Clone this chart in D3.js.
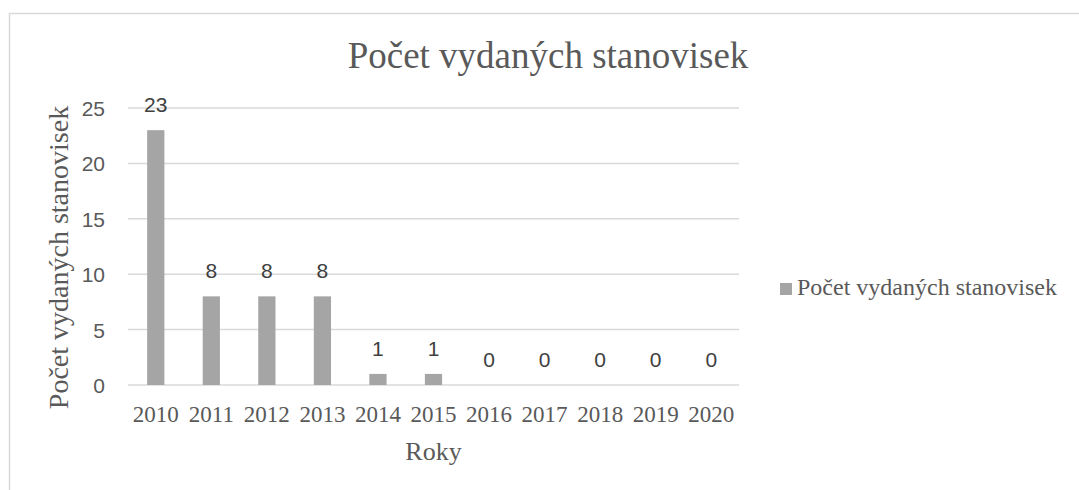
<!DOCTYPE html>
<html>
<head>
<meta charset="utf-8">
<script src="https://cdn.jsdelivr.net/npm/d3@7"></script>
<style>
  body { margin: 0; background: #fff; }
  .tick text { fill: #595959; }
</style>
</head>
<body>
<svg id="chart" width="1079" height="490"></svg>
<script>
var years = ['2010', '2011', '2012', '2013', '2014', '2015', '2016', '2017', '2018', '2019', '2020'];
var counts = [23, 8, 8, 8, 1, 1, 0, 0, 0, 0, 0];
var yTicks = [0, 5, 10, 15, 20, 25];

var seriesName = 'Počet vydaných stanovisek';
var serif = '"Liberation Serif", "Times New Roman", serif';
var sans = '"Liberation Sans", Arial, sans-serif';
var textColor = '#595959';
var barColor = '#a5a5a5';
var gridColor = '#d9d9d9';

var svg = d3.select('#chart');

// outer frame of the chart area (cut off on the right and bottom)
svg.append('rect')
  .attr('x', 9.5).attr('y', 13.5)
  .attr('width', 1200).attr('height', 600)
  .attr('fill', 'none')
  .attr('stroke', gridColor)
  .attr('stroke-width', 1.5);

var plot = { left: 128, right: 739, top: 108, bottom: 385 };

var x = d3.scaleBand()
  .domain(years)
  .range([plot.left, plot.right])
  .paddingInner(0.69)
  .paddingOuter(0.345);

var y = d3.scaleLinear()
  .domain([0, 25])
  .range([plot.bottom, plot.top]);

// gridlines
svg.append('g')
  .selectAll('line')
  .data(yTicks)
  .enter()
  .append('line')
  .attr('x1', plot.left)
  .attr('x2', plot.right)
  .attr('y1', function(d) { return y(d) })
  .attr('y2', function(d) { return y(d) })
  .attr('stroke', gridColor)
  .attr('stroke-width', 1.5);

// y axis labels
var yAxis = svg.append('g')
  .attr('transform', 'translate(' + (plot.left - 23) + ',0)')
  .call(d3.axisLeft(y).tickValues(yTicks).tickSize(0).tickPadding(0));
yAxis.select('.domain').remove();
yAxis.selectAll('text')
  .attr('font-family', sans)
  .attr('font-size', 21)
  .attr('dy', '0.36em');

// x axis labels
var xAxis = svg.append('g')
  .attr('transform', 'translate(0,' + plot.bottom + ')')
  .call(d3.axisBottom(x).tickSize(0).tickPadding(0));
xAxis.select('.domain').remove();
xAxis.selectAll('text')
  .attr('font-family', serif)
  .attr('font-size', 23)
  .attr('dy', null)
  .attr('y', 37);

// bars
svg.append('g')
  .selectAll('rect')
  .data(counts)
  .enter()
  .append('rect')
  .attr('x', function(d, i) { return x(years[i]) })
  .attr('width', x.bandwidth())
  .attr('y', function(d) { return y(d) })
  .attr('height', function(d) { return y(0) - y(d) })
  .attr('fill', barColor);

// data labels
svg.append('g')
  .selectAll('text')
  .data(counts)
  .enter()
  .append('text')
  .attr('x', function(d, i) { return x(years[i]) + x.bandwidth() / 2 })
  .attr('y', function(d) { return y(d) - 18 })
  .attr('text-anchor', 'middle')
  .attr('font-family', sans)
  .attr('font-size', 21)
  .attr('fill', '#404040')
  .text(function(d) { return d });

// title
svg.append('text')
  .attr('x', 548)
  .attr('y', 68)
  .attr('text-anchor', 'middle')
  .attr('font-family', serif)
  .attr('font-size', 37)
  .attr('fill', textColor)
  .text(seriesName);

// axis titles
svg.append('text')
  .attr('transform', 'translate(68,' + ((plot.top + plot.bottom) / 2 + 11) + ') rotate(-90)')
  .attr('text-anchor', 'middle')
  .attr('font-family', serif)
  .attr('font-size', 28)
  .attr('fill', textColor)
  .text(seriesName);

svg.append('text')
  .attr('x', (plot.left + plot.right) / 2)
  .attr('y', 460)
  .attr('text-anchor', 'middle')
  .attr('font-family', serif)
  .attr('font-size', 26)
  .attr('fill', textColor)
  .text('Roky');

// legend
var legend = svg.append('g').attr('transform', 'translate(780,283)');
legend.append('rect')
  .attr('width', 12).attr('height', 12)
  .attr('fill', barColor);
legend.append('text')
  .attr('x', 17)
  .attr('y', 12)
  .attr('font-family', serif)
  .attr('font-size', 24)
  .attr('fill', textColor)
  .text(seriesName);
</script>
</body>
</html>
